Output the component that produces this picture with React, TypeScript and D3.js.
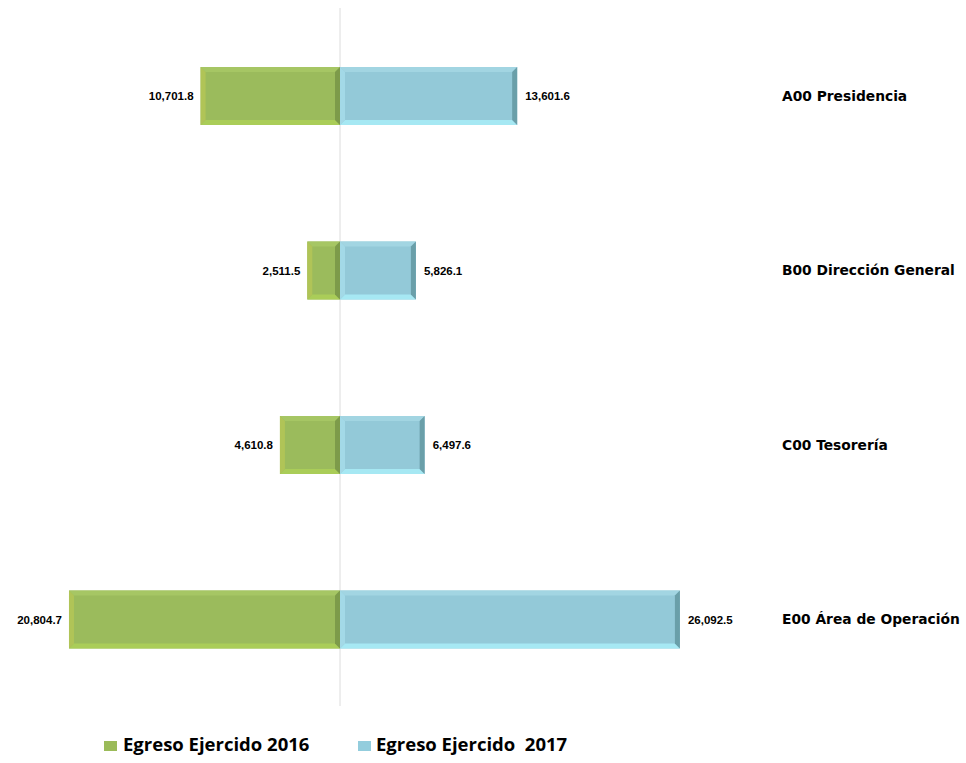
import React from "react";
import * as d3 from "d3";

const categories = ["A00 Presidencia", "B00 Dirección General", "C00 Tesorería", "E00 Área de Operación"];
const values2016 = [10701.8, 2511.5, 4610.8, 20804.7];
const values2017 = [13601.6, 5826.1, 6497.6, 26092.5];
const seriesNames = ["Egreso Ejercido 2016", "Egreso Ejercido  2017"];

const W = 966;
const H = 763;

const fmt = d3.format(",.1f");

export default function App() {
  const x = d3.scaleLinear().domain([-26100, 26100]).range([0, 680]);
  const y = d3.scaleBand<string>().domain(categories).range([8.75, 706.75]).paddingInner(0.668).paddingOuter(0.334);
  const bh = y.bandwidth();
  const b = 5;

  const bevelBar = (x0: number, x1: number, y0: number, h: number, c: any, key: string) => {
    const y1 = y0 + h;
    const bw = Math.min(b, (x1 - x0) / 2);
    return (
      <g key={key}>
        <rect x={x0} y={y0} width={x1 - x0} height={h} fill={c.main} />
        <polygon points={`${x0},${y0} ${x1},${y0} ${x1 - bw},${y0 + b} ${x0 + bw},${y0 + b}`} fill={c.top} />
        <polygon points={`${x0},${y1} ${x1},${y1} ${x1 - bw},${y1 - b} ${x0 + bw},${y1 - b}`} fill={c.bottom} />
        <polygon points={`${x0},${y0} ${x0 + bw},${y0 + b} ${x0 + bw},${y1 - b} ${x0},${y1}`} fill={c.left} />
        <polygon points={`${x1},${y0} ${x1 - bw},${y0 + b} ${x1 - bw},${y1 - b} ${x1},${y1}`} fill={c.right} />
      </g>
    );
  };

  const green = { main: "#9bbb5c", top: "#a6c664", bottom: "#aacd58", left: "#b0c457", right: "#7d9b4a" };
  const blue = { main: "#93c9d8", top: "#a2d5e2", bottom: "#a6e8f3", left: "#a3d9e7", right: "#6a9fa9" };

  return (
    <svg width={W} height={H} style={{ position: "absolute", left: 0, top: 0, background: "#fff" }}>
      <line x1={x(0)} x2={x(0)} y1={8} y2={706} stroke="#dcdcdc" strokeWidth={1} />
      {categories.map((c, i) => {
        const y0 = y(c)!;
        const cy = y0 + bh / 2;
        const xl = x(-values2016[i]);
        const xr = x(values2017[i]);
        return (
          <g key={c}>
            {bevelBar(xl, x(0), y0, bh, green, "g" + i)}
            {bevelBar(x(0), xr, y0, bh, blue, "b" + i)}
            <text x={xl - 7} y={cy} dy="0.35em" textAnchor="end" fontFamily="Liberation Sans, Arial, sans-serif" fontWeight="bold" fontSize={11.5} fill="#000">
              {fmt(values2016[i])}
            </text>
            <text x={xr + 8} y={cy} dy="0.35em" textAnchor="start" fontFamily="Liberation Sans, Arial, sans-serif" fontWeight="bold" fontSize={11.5} fill="#000">
              {fmt(values2017[i])}
            </text>
            <text x={782} y={cy} dy="0.35em" fontFamily="DejaVu Sans, Verdana, sans-serif" fontWeight="bold" fontSize={13.8} fill="#000">
              {c}
            </text>
          </g>
        );
      })}
      <g>
        <rect x={104} y={741} width={13} height={10} fill="#9bbb59" />
        <text x={123} y={751} fontFamily="Open Sans, sans-serif" fontWeight="bold" fontSize={18.5} fill="#000" style={{ whiteSpace: "pre" }}>
          {seriesNames[0]}
        </text>
        <rect x={358} y={741} width={13} height={10} fill="#93cddd" />
        <text x={376} y={751} fontFamily="Open Sans, sans-serif" fontWeight="bold" fontSize={18.5} fill="#000" style={{ whiteSpace: "pre" }}>
          {seriesNames[1]}
        </text>
      </g>
    </svg>
  );
}
